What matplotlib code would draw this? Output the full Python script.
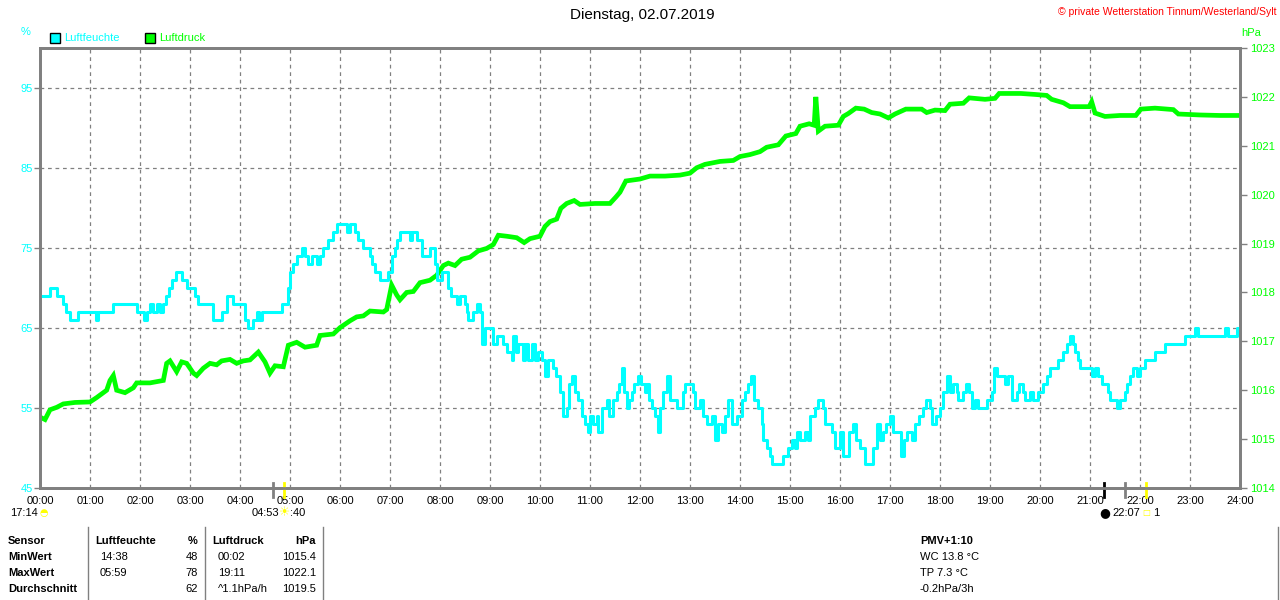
import matplotlib
matplotlib.use("Agg")
import matplotlib.pyplot as plt
from matplotlib.patches import Rectangle

plt.rcParams['font.family'] = ['Liberation Sans', 'DejaVu Sans']

title = "Dienstag, 02.07.2019"
station = "© private Wetterstation Tinnum/Westerland/Sylt"

# Luftfeuchte in %, step changes (time, value)
hum_times = [
    "00:00", "00:12", "00:20", "00:28", "00:31", "00:36", "00:46", "01:07", "01:10", "01:28",
    "01:56", "02:05", "02:08", "02:12", "02:16", "02:20", "02:24", "02:28", "02:31", "02:35",
    "02:38", "02:43", "02:50", "02:56", "03:06", "03:10", "03:28", "03:38", "03:44", "03:52",
    "04:06", "04:10", "04:16", "04:20", "04:23", "04:26", "04:50", "04:58", "05:00", "05:04",
    "05:08", "05:14", "05:18", "05:22", "05:26", "05:32", "05:36", "05:40", "05:46", "05:52",
    "05:56", "06:08", "06:12", "06:18", "06:22", "06:28", "06:36", "06:38", "06:42", "06:48",
    "06:58", "07:02", "07:06", "07:08", "07:12", "07:24", "07:26", "07:32", "07:38", "07:48",
    "07:54", "07:56", "08:02", "08:10", "08:13", "08:20", "08:24", "08:30", "08:32", "08:34",
    "08:40", "08:44", "08:48", "08:50", "08:54", "09:04", "09:08", "09:16", "09:20", "09:26",
    "09:28", "09:31", "09:34", "09:40", "09:42", "09:46", "09:50", "09:54", "09:58", "10:02",
    "10:06", "10:10", "10:16", "10:19", "10:24", "10:28", "10:32", "10:35", "10:38", "10:42",
    "10:46", "10:50", "10:54", "10:58", "11:00", "11:04", "11:08", "11:10", "11:14", "11:20",
    "11:23", "11:28", "11:32", "11:35", "11:38", "11:41", "11:44", "11:47", "11:50", "11:53",
    "11:58", "12:01", "12:06", "12:08", "12:11", "12:14", "12:18", "12:22", "12:24", "12:28",
    "12:32", "12:36", "12:44", "12:52", "12:54", "13:04", "13:06", "13:12", "13:16", "13:20",
    "13:26", "13:30", "13:34", "13:38", "13:42", "13:46", "13:50", "13:56", "14:02", "14:06",
    "14:10", "14:13", "14:17", "14:22", "14:26", "14:28", "14:32", "14:36", "14:38", "14:52",
    "14:58", "15:02", "15:06", "15:08", "15:12", "15:18", "15:22", "15:24", "15:30", "15:34",
    "15:40", "15:42", "15:50", "15:54", "16:00", "16:04", "16:11", "16:16", "16:19", "16:24",
    "16:30", "16:40", "16:44", "16:48", "16:52", "16:55", "17:00", "17:04", "17:13", "17:17",
    "17:20", "17:26", "17:30", "17:35", "17:40", "17:43", "17:48", "17:50", "17:55", "18:00",
    "18:04", "18:08", "18:12", "18:16", "18:20", "18:22", "18:28", "18:31", "18:35", "18:38",
    "18:42", "18:46", "18:56", "19:02", "19:05", "19:08", "19:18", "19:22", "19:26", "19:32",
    "19:35", "19:40", "19:42", "19:48", "19:52", "19:58", "20:04", "20:08", "20:12", "20:22",
    "20:28", "20:32", "20:36", "20:40", "20:42", "20:46", "20:48", "21:02", "21:06", "21:10",
    "21:14", "21:22", "21:24", "21:32", "21:36", "21:42", "21:44", "21:48", "21:52", "21:56",
    "22:00", "22:06", "22:18", "22:30", "22:54", "23:06", "23:10", "23:42", "23:46", "23:56",
    "24:00",
]
hum_values = [
    69, 70, 69, 68, 67, 66, 67, 66, 67, 68,
    67, 66, 67, 68, 67, 68, 67, 68, 69, 70,
    71, 72, 71, 70, 69, 68, 66, 67, 69, 68,
    66, 65, 66, 67, 66, 67, 68, 70, 72, 73,
    74, 75, 74, 73, 74, 73, 74, 75, 76, 77,
    78, 77, 78, 77, 76, 75, 74, 73, 72, 71,
    72, 74, 75, 76, 77, 76, 77, 76, 74, 75,
    73, 71, 72, 70, 69, 68, 69, 68, 67, 66,
    67, 68, 67, 63, 65, 63, 64, 63, 62, 61,
    64, 62, 63, 61, 63, 61, 63, 61, 62, 61,
    59, 61, 60, 59, 57, 54, 55, 58, 59, 57,
    56, 54, 53, 52, 54, 53, 54, 52, 55, 56,
    54, 56, 57, 58, 60, 57, 55, 56, 57, 58,
    59, 58, 57, 58, 56, 55, 54, 52, 55, 57,
    59, 56, 55, 57, 58, 57, 55, 56, 54, 53,
    54, 51, 53, 52, 54, 56, 53, 54, 56, 57,
    58, 59, 56, 55, 53, 51, 50, 49, 48, 49,
    50, 51, 50, 52, 51, 52, 51, 54, 55, 56,
    55, 53, 52, 50, 52, 49, 52, 53, 51, 50,
    48, 50, 53, 51, 52, 53, 54, 52, 49, 51,
    52, 51, 53, 54, 55, 56, 55, 53, 54, 55,
    57, 59, 57, 58, 57, 56, 57, 58, 57, 55,
    56, 55, 56, 57, 60, 59, 58, 59, 56, 57,
    58, 57, 56, 57, 56, 57, 58, 59, 60, 61,
    62, 63, 64, 63, 62, 61, 60, 59, 60, 59,
    58, 57, 56, 55, 56, 57, 58, 59, 60, 59,
    60, 61, 62, 63, 64, 65, 64, 65, 64, 65,
    65,
]

# Luftdruck in hPa
press_times = [
    "00:00", "00:06", "00:12", "00:20", "00:28", "00:42", "01:00", "01:08", "01:16", "01:20",
    "01:24", "01:28", "01:32", "01:42", "01:52", "01:56", "02:12", "02:28", "02:32", "02:36",
    "02:44", "02:50", "02:56", "03:04", "03:08", "03:16", "03:24", "03:32", "03:38", "03:48",
    "03:56", "04:04", "04:12", "04:22", "04:30", "04:36", "04:42", "04:52", "04:58", "05:08",
    "05:18", "05:32", "05:36", "05:52", "06:00", "06:12", "06:20", "06:28", "06:36", "06:52",
    "06:56", "07:02", "07:08", "07:12", "07:20", "07:28", "07:36", "07:48", "07:56", "08:04",
    "08:10", "08:18", "08:26", "08:36", "08:46", "08:56", "09:04", "09:10", "09:20", "09:32",
    "09:41", "09:48", "10:00", "10:06", "10:12", "10:20", "10:25", "10:32", "10:41", "10:48",
    "11:06", "11:24", "11:31", "11:36", "11:43", "12:00", "12:12", "12:30", "12:48", "13:00",
    "13:08", "13:18", "13:36", "13:52", "14:00", "14:12", "14:24", "14:32", "14:46", "14:55",
    "15:07", "15:12", "15:23", "15:29", "15:31", "15:34", "15:42", "15:58", "16:04", "16:10",
    "16:19", "16:29", "16:38", "16:48", "16:58", "17:06", "17:19", "17:38", "17:44", "17:54",
    "18:06", "18:12", "18:28", "18:35", "18:54", "19:06", "19:11", "19:37", "19:54", "20:08",
    "20:14", "20:28", "20:36", "20:59", "21:02", "21:06", "21:18", "21:36", "21:55", "22:01",
    "22:18", "22:40", "22:46", "23:12", "23:36", "24:00",
]
press_values = [
    1015.45, 1015.40, 1015.60, 1015.65, 1015.72, 1015.75, 1015.76, 1015.85, 1015.95, 1016.00,
    1016.20, 1016.30, 1016.00, 1015.95, 1016.05, 1016.15, 1016.15, 1016.20, 1016.55, 1016.60,
    1016.38, 1016.58, 1016.55, 1016.35, 1016.30, 1016.45, 1016.55, 1016.52, 1016.60, 1016.63,
    1016.55, 1016.60, 1016.62, 1016.78, 1016.58, 1016.35, 1016.50, 1016.48, 1016.92, 1016.98,
    1016.88, 1016.92, 1017.12, 1017.15, 1017.28, 1017.42, 1017.50, 1017.52, 1017.62, 1017.60,
    1017.65, 1018.15, 1017.95, 1017.85, 1018.00, 1018.02, 1018.20, 1018.25, 1018.35, 1018.55,
    1018.60, 1018.55, 1018.68, 1018.72, 1018.85, 1018.90, 1018.98, 1019.17, 1019.15, 1019.12,
    1019.02, 1019.10, 1019.15, 1019.35, 1019.45, 1019.50, 1019.72, 1019.82, 1019.88, 1019.80,
    1019.82, 1019.82, 1019.95, 1020.05, 1020.28, 1020.32, 1020.38, 1020.38, 1020.40, 1020.44,
    1020.55, 1020.62, 1020.68, 1020.70, 1020.78, 1020.82, 1020.88, 1020.97, 1021.02, 1021.20,
    1021.25, 1021.40, 1021.45, 1021.42, 1022.00, 1021.30, 1021.40, 1021.42, 1021.60, 1021.66,
    1021.77, 1021.75, 1021.68, 1021.65, 1021.57, 1021.65, 1021.75, 1021.75, 1021.68, 1021.73,
    1021.72, 1021.85, 1021.87, 1021.98, 1021.95, 1021.97, 1022.07, 1022.07, 1022.05, 1022.03,
    1021.95, 1021.88, 1021.80, 1021.80, 1021.90, 1021.67, 1021.60, 1021.62, 1021.62, 1021.75,
    1021.77, 1021.74, 1021.65, 1021.63, 1021.62, 1021.62,
]

hour_labels = ["%02d:00" % h for h in range(25)]
hum_ticks = [45, 55, 65, 75, 85, 95]
press_ticks = list(range(1014, 1024))

# sun / moon markers below the time axis: (time, colour)
event_marks = [("04:40", "#808080"), ("04:53", "#ffff00"),
               ("21:17", "black"), ("21:42", "#808080"), ("22:07", "#ffff00")]

# summary table
table_header = ["Sensor", "Luftfeuchte", "%", "Luftdruck", "hPa"]
table_rows = [
    ["MinWert", "14:38", "48", "00:02", "1015.4"],
    ["MaxWert", "05:59", "78", "19:11", "1022.1"],
    ["Durchschnitt", "", "62", "^1.1hPa/h", "1019.5"],
]
extra_lines = ["PMV+1:10", "WC 13.8 °C", "TP 7.3 °C", "-0.2hPa/3h"]

CYAN = "#00ffff"
GREEN = "#00ff00"
GRAY = "#808080"


def to_hours(t):
    h, m = t.split(":")
    return int(h) + int(m) / 60


def px(x, y):
    # pixel position -> figure fraction
    return x / 1280, 1 - y / 600


fig = plt.figure(figsize=(12.8, 6), dpi=100)
ax = fig.add_axes([40 / 1280, 112 / 600, 1200 / 1280, 440 / 600])
ax2 = ax.twinx()

ax.set_xlim(0, 24)
ax.set_ylim(45, 100)
ax2.set_ylim(1014, 1023)

# pressure first, humidity on top
ax.plot([to_hours(t) for t in press_times],
        [(v - 1014) / 9 * 55 + 45 for v in press_values],
        color=GREEN, lw=3.4, solid_joinstyle="miter", zorder=3)
ax.plot([to_hours(t) for t in hum_times], hum_values,
        color=CYAN, lw=2.2, drawstyle="steps-post", zorder=4)

ax.set_xticks(range(25))
ax.set_xticklabels(hour_labels, fontsize=8)
ax.set_yticks(hum_ticks)
ax.set_yticklabels([str(v) for v in hum_ticks], fontsize=8, color=CYAN)
ax.tick_params(axis="x", length=0, pad=6)
ax.tick_params(axis="y", length=4, width=1, color=GRAY, pad=1)
ax2.set_yticks(press_ticks)
ax2.set_yticklabels([str(v) for v in press_ticks], fontsize=8, color=GREEN)
ax2.tick_params(axis="y", length=5, width=1, color=GRAY, pad=2)

ax.grid(True, color=GRAY, lw=0.9, linestyle=(0, (3, 3)))
for a in (ax, ax2):
    for s in a.spines.values():
        s.set_color(GRAY)
        s.set_linewidth(2)

# event ticks under the axis
trans = ax.get_xaxis_transform()
for t, c in event_marks:
    ax.plot([to_hours(t)] * 2, [0.012, -0.021], color=c, lw=2,
            transform=trans, clip_on=False, zorder=6)

# header texts
fig.text(*px(642, 15), title, ha="center", va="center", fontsize=11)
fig.text(*px(1277, 12), station, ha="right", va="center", fontsize=7.5, color="red")
fig.text(*px(26, 32), "%", ha="center", va="center", fontsize=8, color=CYAN)
fig.text(*px(1251, 33), "hPa", ha="center", va="center", fontsize=8, color=GREEN)

# legend
fig.add_artist(Rectangle(px(50, 43), 10 / 1280, 10 / 600, facecolor=CYAN,
                         edgecolor="black", lw=1, transform=fig.transFigure))
fig.text(*px(64, 38), "Luftfeuchte", va="center", fontsize=8, color=CYAN)
fig.add_artist(Rectangle(px(145, 43), 10 / 1280, 10 / 600, facecolor=GREEN,
                         edgecolor="black", lw=1, transform=fig.transFigure))
fig.text(*px(159, 38), "Luftdruck", va="center", fontsize=8, color=GREEN)

# sun / moon info below the axis
fig.text(*px(10, 513), "17:14", va="center", fontsize=8)
fig.text(*px(44, 513), "◓", ha="center", va="center", fontsize=7, color="#ffff00",
         family="DejaVu Sans")
fig.text(*px(279, 513), "04:53", ha="right", va="center", fontsize=8)
fig.text(*px(285, 513), "☀", ha="center", va="center", fontsize=9, color="#ffff00",
         family="DejaVu Sans")
fig.text(*px(290, 513), ":40", va="center", fontsize=8)
fig.text(*px(1105, 513), "●", ha="center", va="center", fontsize=9, color="black",
         family="DejaVu Sans")
fig.text(*px(1112, 513), "22:07", va="center", fontsize=8)
fig.text(*px(1146, 513), "□", ha="center", va="center", fontsize=6, color="#ffff00",
         family="DejaVu Sans")
fig.text(*px(1153, 513), "1", va="center", fontsize=8)

# table
col_x = [8, 100, 198, 218, 316]
col_ha = ["left", "left", "right", "left", "right"]
row_y = [541, 557, 573, 589]
for j, h in enumerate(table_header):
    hx = 95 if j == 1 else (212 if j == 3 else col_x[j])
    fig.text(*px(hx, row_y[0]), h, ha=col_ha[j], va="center", fontsize=8,
             fontweight="bold")
for i, row in enumerate(table_rows):
    for j, cell in enumerate(row):
        fig.text(*px(col_x[j], row_y[i + 1]), cell, ha=col_ha[j], va="center",
                 fontsize=8, fontweight="bold" if j == 0 else "normal")
for lx in (88, 205, 323, 1278):
    fig.add_artist(plt.Line2D([lx / 1280] * 2, [1 - 527 / 600, 0], color=GRAY,
                              lw=1, transform=fig.transFigure))
for i, line in enumerate(extra_lines):
    fig.text(*px(920, row_y[i]), line, va="center", fontsize=8,
             fontweight="bold" if i == 0 else "normal")

fig.savefig("out.png", dpi=100)
